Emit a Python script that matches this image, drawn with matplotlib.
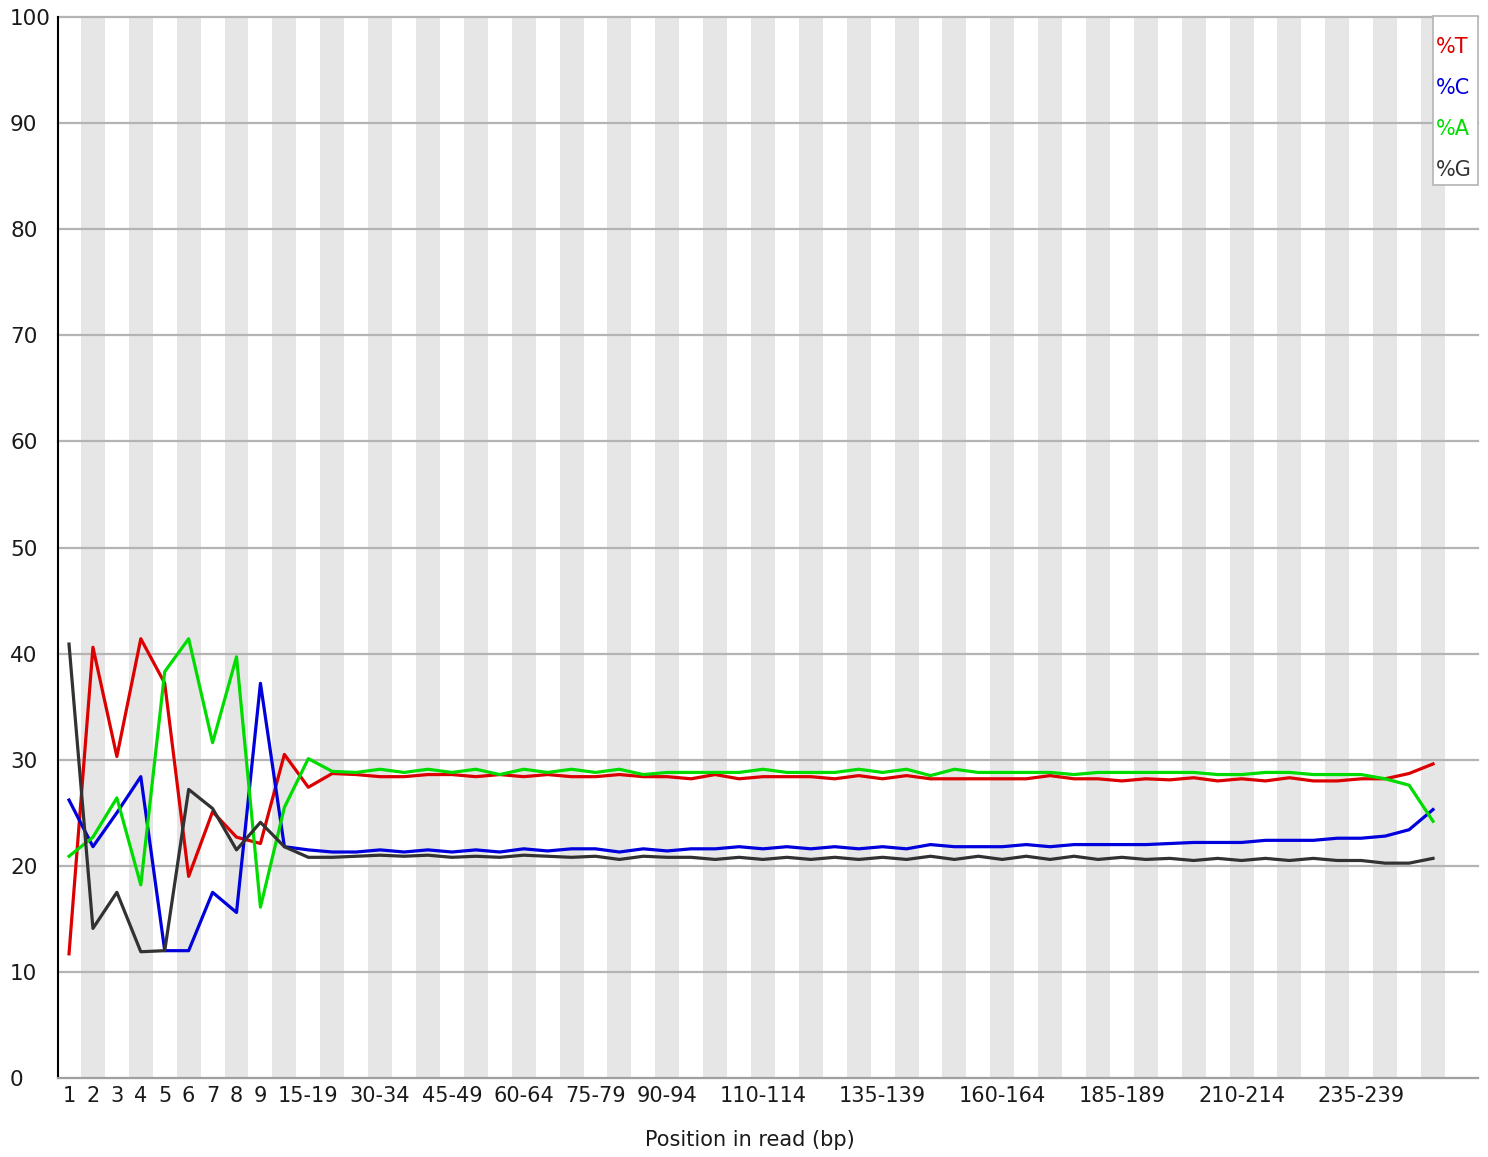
import matplotlib
matplotlib.use("Agg")
import matplotlib.pyplot as plt
from matplotlib.patches import Rectangle

# bins of the read (1..9 single bases, then groups of 5)
bins = [str(i) for i in range(1, 10)] + ["%d-%d" % (s, s + 4) for s in range(10, 250, 5)] + ["250-251"]

# percentages per bin
pct_t = [11.7, 40.6, 30.3, 41.4, 37.2, 19.0, 25.1, 22.7, 22.1,
         30.5,
         27.4, 28.7, 28.6, 28.4, 28.4, 28.6, 28.6, 28.4, 28.6, 28.4, 28.6, 28.4,
         28.4, 28.6, 28.4, 28.4, 28.2, 28.6, 28.2, 28.4, 28.4, 28.4, 28.2, 28.5,
         28.2, 28.5, 28.2, 28.2, 28.2, 28.2, 28.2, 28.5, 28.2, 28.2, 28.0, 28.2,
         28.1, 28.3, 28.0, 28.2, 28.0, 28.3, 28.0, 28.0, 28.2, 28.2, 28.7, 29.6]
pct_c = [26.2, 21.8, 25.0, 28.4, 12.0, 12.0, 17.5, 15.6, 37.2,
         21.8,
         21.5, 21.3, 21.3, 21.5, 21.3, 21.5, 21.3, 21.5, 21.3, 21.6, 21.4, 21.6,
         21.6, 21.3, 21.6, 21.4, 21.6, 21.6, 21.8, 21.6, 21.8, 21.6, 21.8, 21.6,
         21.8, 21.6, 22.0, 21.8, 21.8, 21.8, 22.0, 21.8, 22.0, 22.0, 22.0, 22.0,
         22.1, 22.2, 22.2, 22.2, 22.4, 22.4, 22.4, 22.6, 22.6, 22.8, 23.4, 25.3]
pct_a = [20.9, 22.7, 26.4, 18.2, 38.3, 41.4, 31.6, 39.7, 16.1,
         25.5,
         30.1, 28.9, 28.8, 29.1, 28.8, 29.1, 28.8, 29.1, 28.6, 29.1, 28.8, 29.1,
         28.8, 29.1, 28.6, 28.8, 28.8, 28.8, 28.8, 29.1, 28.8, 28.8, 28.8, 29.1,
         28.8, 29.1, 28.5, 29.1, 28.8, 28.8, 28.8, 28.8, 28.6, 28.8, 28.8, 28.8,
         28.8, 28.8, 28.6, 28.6, 28.8, 28.8, 28.6, 28.6, 28.6, 28.2, 27.6, 24.2]
pct_g = [40.9, 14.1, 17.5, 11.9, 12.0, 27.2, 25.4, 21.5, 24.1,
         21.8,
         20.8, 20.8, 20.9, 21.0, 20.9, 21.0, 20.8, 20.9, 20.8, 21.0, 20.9, 20.8,
         20.9, 20.6, 20.9, 20.8, 20.8, 20.6, 20.8, 20.6, 20.8, 20.6, 20.8, 20.6,
         20.8, 20.6, 20.9, 20.6, 20.9, 20.6, 20.9, 20.6, 20.9, 20.6, 20.8, 20.6,
         20.7, 20.5, 20.7, 20.5, 20.7, 20.5, 20.7, 20.5, 20.5, 20.25, 20.25, 20.7]

shown_labels = ["1", "2", "3", "4", "5", "6", "7", "8", "9", "15-19", "30-34", "45-49",
                "60-64", "75-79", "90-94", "110-114", "135-139", "160-164", "185-189",
                "210-214", "235-239"]
y_ticks = [0, 10, 20, 30, 40, 50, 60, 70, 80, 90, 100]

series = [("%T", pct_t, "#dc0000"), ("%C", pct_c, "#0000dc"),
          ("%A", pct_a, "#00dc00"), ("%G", pct_g, "#323232")]

plt.rcParams['font.family'] = ['DejaVu Sans']

W, H = 1488, 1157
fig = plt.figure(figsize=(W / 100, H / 100), dpi=100)
ax = fig.add_axes([58 / W, 79 / H, 1420 / W, 1061 / H])

x = list(range(1, len(bins) + 1))

# alternating grey stripes
for i in x:
    if i % 2 == 0:
        ax.axvspan(i - 0.5, i + 0.5, color="#e6e6e6", lw=0, zorder=0)

# horizontal grid
for v in y_ticks:
    ax.axhline(v, color="#b4b4b4", lw=1.6, zorder=1, clip_on=False)

for name, vals, col in series:
    ax.plot(x, vals, color=col, lw=2.3, zorder=3)

ax.set_xlim(0.54, 59.88)
ax.set_ylim(0, 100)

ax.set_xticks([bins.index(l) + 1 for l in shown_labels])
ax.set_xticklabels(shown_labels)
ax.set_yticks(y_ticks)
ax.set_yticklabels([str(v) for v in y_ticks])
ax.tick_params(axis="x", length=0, pad=6, labelsize=15, colors="#1a1a1a")
ax.tick_params(axis="y", length=0, pad=34.5, labelsize=15.5, colors="#1a1a1a")
for lab in ax.get_yticklabels():
    lab.set_horizontalalignment("left")

for side in ["top", "right"]:
    ax.spines[side].set_visible(False)
ax.spines["left"].set_color("black")
ax.spines["left"].set_linewidth(1.5)
ax.spines["bottom"].set_color("#a0a0a0")
ax.spines["bottom"].set_linewidth(1.5)

fig.text(750 / W, 1 - 1140 / H, "Position in read (bp)", ha="center", va="center",
         fontsize=15, color="#1a1a1a")

# legend box drawn by hand, like the FastQC one
box = Rectangle((1433 / W, 1 - 185 / H), 45 / W, 169 / H, transform=fig.transFigure,
                facecolor="white", edgecolor="#b4b4b4", lw=1.2, zorder=5)
fig.add_artist(box)
for k, (name, vals, col) in enumerate(series):
    fig.text(1436 / W, 1 - (47 + 41 * k) / H, name, color=col, fontsize=15,
             ha="left", va="center", zorder=6)

fig.savefig("out.png", dpi=100)
